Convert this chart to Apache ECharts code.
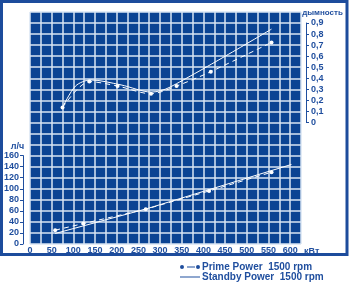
<!DOCTYPE html>
<html><head><meta charset="utf-8">
<script src="https://cdn.jsdelivr.net/npm/echarts@6/dist/echarts.min.js"></script>
<style>html,body{margin:0;padding:0;background:#fff}#c{width:349px;height:284px}</style>
</head><body><div id="c"></div>
<script>
// x-axis ticks (kW)
var xTickLabels = [0,50,100,150,200,250,300,350,400,450,500,550,600];
var fuelTickLabels = [0,20,40,60,80,100,120,140,160];
var smokeTickLabels = [0,0.1,0.2,0.3,0.4,0.5,0.6,0.7,0.8,0.9];

// Smoke (right axis)
var smokePrimeX = [75,137,202,279,338,417,557];
var smokePrimeY = [0.135,0.37,0.33,0.26,0.33,0.46,0.725];
var smokeStandbyX = [75,105,140,210,280,323,557];
var smokeStandbyY = [0.135,0.33,0.385,0.34,0.275,0.32,0.845];

// Fuel consumption (left axis, л/ч)
var fuelPrimeX = [58,123,267,413,557];
var fuelPrimeY = [25,37,63,96,130];
var fuelStandbyX = [58,270,603];
var fuelStandbyY = [19,64,144];

var PRIME = 'Prime Power  1500 rpm';
var STANDBY = 'Standby Power  1500 rpm';
var TXT = '#1f4e9e';
var BG = '#0a4393';
var GRIDLINE = '#d9e4f3';
var FONT = 'Liberation Sans';

function pairs(xs, ys){ return xs.map(function(x,i){return [x, ys[i]];}); }

var chart = echarts.init(document.getElementById('c'), null, {renderer:'canvas'});
chart.setOption({
  backgroundColor:'#fff',
  animation:false,
  textStyle:{fontFamily:FONT},
  graphic:[{type:'rect', shape:{x:1.5,y:1.5,width:345.5,height:253}, style:{fill:'none', stroke:'#1d4c9c', lineWidth:3}, z:-1}],
  grid:[
    {left:30, right:48, top:12, bottom:40, show:true, backgroundColor:BG, borderWidth:0},
    {left:23, width:1, top:155.6, bottom:40},
    {left:306, width:1, top:23, bottom:161.5}
  ],
  xAxis:[
    {gridIndex:0, type:'value', min:0, max:625, interval:25,
     axisLine:{show:false}, axisTick:{show:false},
     splitLine:{show:true, lineStyle:{color:GRIDLINE, width:1.5}},
     axisLabel:{margin:2, color:TXT, fontWeight:'bold', fontSize:9, fontFamily:FONT,
       formatter:function(v){return xTickLabels.indexOf(v)>=0 ? String(v) : '';}},
     name:'кВт', nameLocation:'end', nameGap:3,
     nameTextStyle:{color:TXT, fontWeight:'bold', fontSize:9, fontFamily:FONT, verticalAlign:'top', padding:[3,0,0,0]}},
    {gridIndex:1, type:'value', show:false, min:0, max:1},
    {gridIndex:2, type:'value', show:false, min:0, max:1}
  ],
  yAxis:[
    {gridIndex:0, type:'value', min:0, max:420, interval:20,
     axisLine:{show:false}, axisTick:{show:false}, axisLabel:{show:false},
     splitLine:{show:true, lineStyle:{color:GRIDLINE, width:1.5}}},
    {gridIndex:0, type:'value', min:-1.1, max:1.0, interval:0.1, show:false, splitLine:{show:false}},
    {gridIndex:1, type:'value', position:'left', min:0, max:160, interval:20,
     axisLine:{show:true, lineStyle:{color:TXT, width:1}},
     axisTick:{show:true, length:3, lineStyle:{color:TXT}},
     splitLine:{show:false},
     axisLabel:{margin:4, color:TXT, fontWeight:'bold', fontSize:9, fontFamily:FONT,
       formatter:function(v){return fuelTickLabels.indexOf(v)>=0 ? String(v) : '';}},
     name:'л/ч', nameLocation:'end', nameGap:5,
     nameTextStyle:{color:TXT, fontWeight:'bold', fontSize:9, fontFamily:FONT, align:'center', padding:[0,11,0,0]}},
    {gridIndex:2, type:'value', position:'right', min:0, max:0.9, interval:0.1,
     axisLine:{show:true, lineStyle:{color:TXT, width:1}},
     axisTick:{show:true, length:3, lineStyle:{color:TXT}},
     splitLine:{show:false},
     axisLabel:{margin:4, color:TXT, fontWeight:'bold', fontSize:9, fontFamily:FONT,
       formatter:function(v){var r=Math.round(v*10)/10; return r===0?'0':String(r).replace('.',',');}},
     name:'дымность', nameLocation:'end', nameGap:6,
     nameTextStyle:{color:TXT, fontWeight:'bold', fontSize:8, fontFamily:FONT, align:'center', padding:[0,0,0,33]}}
  ],
  legend:{
    orient:'vertical', left:180, top:262, height:24, padding:0, itemWidth:20, itemHeight:5, itemGap:0,
    data:[
      {name:PRIME, icon:'path://M0,2a2,2 0 1,0 4,0a2,2 0 1,0 -4,0ZM7,1.5H15V2.5H7ZM16,2a2,2 0 1,0 4,0a2,2 0 1,0 -4,0Z'},
      {name:STANDBY, icon:'path://M0,0H20V1H0Z'}
    ],
    textStyle:{color:TXT, fontWeight:'bold', fontSize:10, lineHeight:10, fontFamily:FONT, padding:[0,0,0,-3]},
    itemStyle:{color:TXT, borderWidth:0}
  },
  series:[
    {name:PRIME, type:'line', xAxisIndex:0, yAxisIndex:1, data:pairs(smokePrimeX, smokePrimeY), smooth:0.3,
     symbol:'circle', symbolSize:4, itemStyle:{color:'#fff'}, lineStyle:{color:'#fff', width:1, type:[5,4]}},
    {name:STANDBY, type:'line', xAxisIndex:0, yAxisIndex:1, data:pairs(smokeStandbyX, smokeStandbyY), smooth:0.3,
     symbol:'none', showSymbol:false, itemStyle:{color:'#fff'}, lineStyle:{color:'#fff', width:1}},
    {name:PRIME, type:'line', xAxisIndex:0, yAxisIndex:0, data:pairs(fuelPrimeX, fuelPrimeY),
     symbol:'circle', symbolSize:4, itemStyle:{color:'#fff'}, lineStyle:{color:'#fff', width:1, type:[5,4]}},
    {name:STANDBY, type:'line', xAxisIndex:0, yAxisIndex:0, data:pairs(fuelStandbyX, fuelStandbyY),
     symbol:'none', showSymbol:false, itemStyle:{color:'#fff'}, lineStyle:{color:'#fff', width:1}}
  ]
});
</script></body></html>
